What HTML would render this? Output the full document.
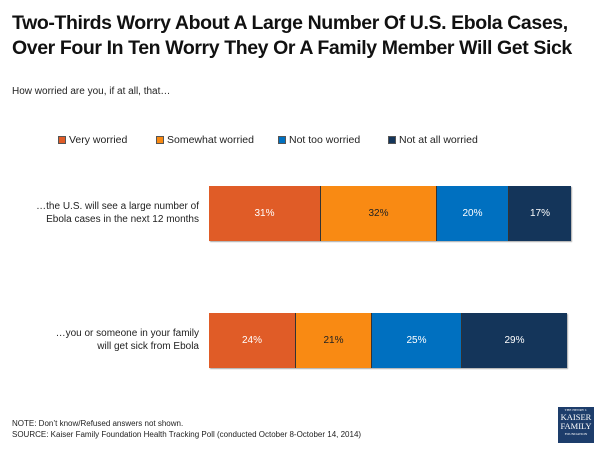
<!DOCTYPE html>
<html><head><meta charset="utf-8"><style>
body{margin:0;width:600px;height:450px;background:#fff;position:relative;overflow:hidden;font-family:"Liberation Sans",sans-serif;color:#111}
.a{position:absolute;white-space:nowrap}
.t{left:12px;font-weight:bold;font-size:19.5px;letter-spacing:-0.4px;transform-origin:left;}
.seg{position:absolute;height:100%;top:0;box-sizing:border-box;border-right:1px solid #333;display:flex;align-items:center;justify-content:center;font-size:10px;color:#fff}
.bar{position:absolute;left:209px;height:55px;box-shadow:1px 1px 1px #aaa}
.lbl{position:absolute;right:401px;text-align:right;font-size:10px;line-height:13px;color:#222;white-space:nowrap}
.lg{position:absolute;top:134px;font-size:10.5px;color:#222}
.lg i{display:inline-block;width:8px;height:8px;border:1px solid #555;margin-right:3px;vertical-align:-1px;box-sizing:border-box}
</style></head><body>
<div class="a t" style="top:12px">Two-Thirds Worry About A Large Number Of U.S. Ebola Cases,</div>
<div class="a t" style="top:37px">Over Four In Ten Worry They Or A Family Member Will Get Sick</div>
<div class="a" style="left:12px;top:86px;font-size:10px;color:#222">How worried are you, if at all, that…</div>
<div class="lg" style="left:58px"><i style="background:#e05c27"></i>Very worried</div>
<div class="lg" style="left:156px"><i style="background:#f98a13"></i>Somewhat worried</div>
<div class="lg" style="left:278px"><i style="background:#0070c0"></i>Not too worried</div>
<div class="lg" style="left:388px"><i style="background:#14355a"></i>Not at all worried</div>
<div class="lbl" style="top:200px">…the U.S. will see a large number of<br>Ebola cases in the next 12 months</div>
<div class="bar" style="top:186px;width:362px">
<div class="seg" style="left:0;width:112px;background:#e05c27">31%</div>
<div class="seg" style="left:112px;width:116px;background:#f98a13;color:#222">32%</div>
<div class="seg" style="left:228px;width:72px;background:#0070c0">20%</div>
<div class="seg" style="left:300px;width:62px;background:#14355a;border-right:none">17%</div>
</div>
<div class="lbl" style="top:327px">…you or someone in your family<br>will get sick from Ebola</div>
<div class="bar" style="top:313px;width:358px">
<div class="seg" style="left:0;width:87px;background:#e05c27">24%</div>
<div class="seg" style="left:87px;width:76px;background:#f98a13;color:#222">21%</div>
<div class="seg" style="left:163px;width:90px;background:#0070c0">25%</div>
<div class="seg" style="left:253px;width:105px;background:#14355a;border-right:none">29%</div>
</div>
<div class="a" style="left:12px;top:418px;font-size:8px;line-height:11px;color:#222">NOTE: Don’t know/Refused answers not shown.<br>SOURCE: Kaiser Family Foundation Health Tracking Poll (conducted October 8-October 14, 2014)</div>
<div class="a" style="left:558px;top:407px;width:36px;height:36px;background:#1d3d6b;color:#fff;font-family:'Liberation Serif',serif;text-align:center;line-height:9px">
<div style="font-size:3.5px;line-height:6px">THE HENRY J.</div>
<div style="font-size:8.5px">KAISER</div>
<div style="font-size:8.5px">FAMILY</div>
<div style="font-size:3.5px;line-height:6px">FOUNDATION</div>
</div>
</body></html>
